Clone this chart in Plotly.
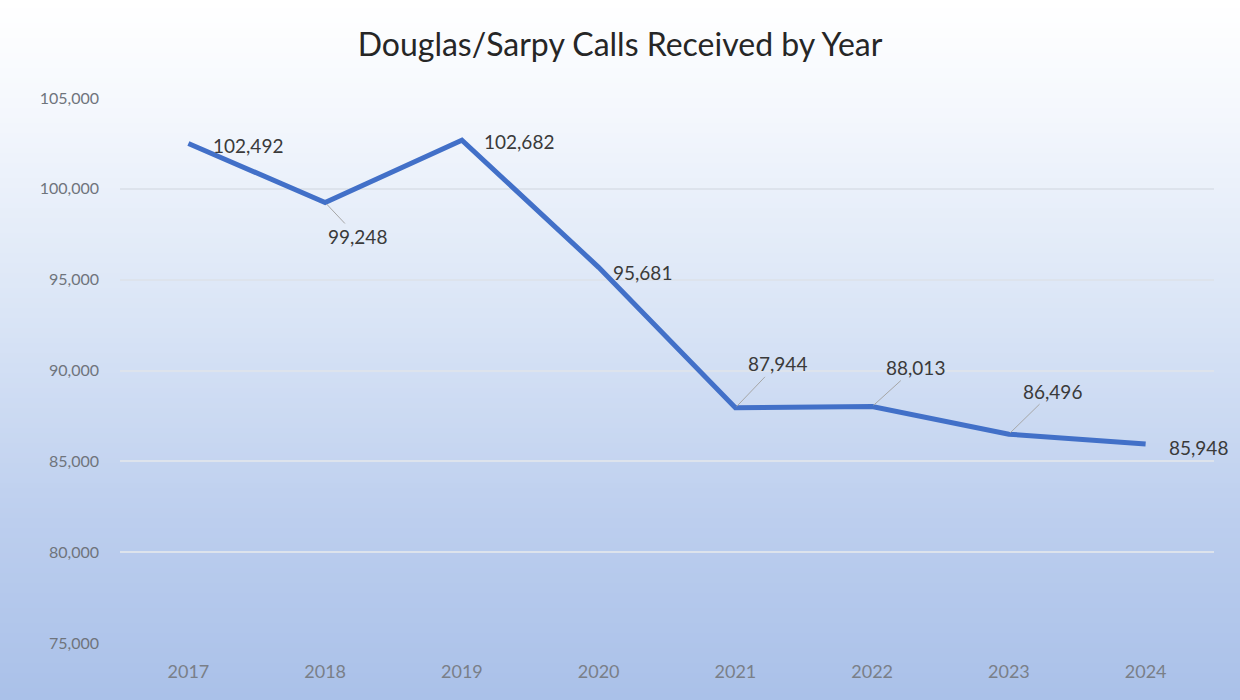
import base64, struct, zlib
import plotly.graph_objects as go

years = ["2017", "2018", "2019", "2020", "2021", "2022", "2023", "2024"]
calls = [102492, 99248, 102682, 95681, 87944, 88013, 86496, 85948]
label_text = ["102,492", "99,248", "102,682", "95,681", "87,944", "88,013", "86,496", "85,948"]
y_ticks = [75000, 80000, 85000, 90000, 95000, 100000, 105000]
y_tick_text = ["75,000", "80,000", "85,000", "90,000", "95,000", "100,000", "105,000"]

# label offsets in pixels (style only)
label_offsets = [(60, 2, False), (32, 34, True), (57, 1, False), (44, 5, False),
                 (42, -44, True), (43, -39, True), (44, -43, True), (53, 3, False)]


def gradient_png(stops, h=140):
    rows = b""
    for i in range(h):
        t = i / (h - 1)
        for j in range(len(stops) - 1):
            t0, c0 = stops[j]
            t1, c1 = stops[j + 1]
            if t0 <= t <= t1:
                f = (t - t0) / (t1 - t0) if t1 > t0 else 0
                c = [round(c0[k] + (c1[k] - c0[k]) * f) for k in range(3)]
                break
        rows += b"\x00" + bytes(c) * 4
    def chunk(tag, data):
        return struct.pack(">I", len(data)) + tag + data + struct.pack(">I", zlib.crc32(tag + data) & 0xffffffff)
    png = b"\x89PNG\r\n\x1a\n" + chunk(b"IHDR", struct.pack(">IIBBBBB", 4, h, 8, 2, 0, 0, 0))
    png += chunk(b"IDAT", zlib.compress(rows)) + chunk(b"IEND", b"")
    return "data:image/png;base64," + base64.b64encode(png).decode()


bg = gradient_png([(0.0, (255, 255, 255)), (0.15, (245, 248, 253)), (0.45, (218, 229, 246)),
                   (0.75, (188, 206, 238)), (1.0, (170, 193, 233))])

fig = go.Figure()
fig.add_trace(go.Scatter(x=years, y=calls, mode="lines",
                         line=dict(color="#4270c8", width=5), hoverinfo="x+y"))

L, R, T, B = 120, 26, 98, 57
W, H = 1240, 700
pw, ph = W - L - R, H - T - B

for i, (v, txt, (dx, dy, arrow)) in enumerate(zip(calls, label_text, label_offsets)):
    fig.add_annotation(x=i, y=v, text=txt, showarrow=True, arrowhead=0,
                       arrowwidth=1 if arrow else 0.1,
                       arrowcolor="#a6a6a6" if arrow else "rgba(0,0,0,0)",
                       ax=dx, ay=dy, font=dict(family="Lato, Open Sans, sans-serif", size=19, color="#3a3a3a"),
                       standoff=2)

fig.update_layout(
    width=W, height=H,
    margin=dict(l=L, r=R, t=T, b=B),
    paper_bgcolor="white", plot_bgcolor="rgba(0,0,0,0)",
    title=dict(text="Douglas/Sarpy Calls Received by Year", x=0.5, xanchor="center",
               y=1 - 45 / H, yanchor="middle",
               font=dict(family="Lato, Open Sans, sans-serif", size=32, color="#262626")),
    images=[dict(source=bg, xref="paper", yref="paper", x=-L / pw, y=1 + T / ph,
                 sizex=W / pw, sizey=H / ph, sizing="stretch", layer="below",
                 xanchor="left", yanchor="top")],
    showlegend=False,
    xaxis=dict(type="category", range=[-0.5, 7.5], showgrid=False, zeroline=False, showline=False, ticks="",
               tickfont=dict(family="Lato, Open Sans, sans-serif", size=18, color="#7a7f88"),
               ticklabelstandoff=16),
    yaxis=dict(range=[75000, 105000], tickvals=y_ticks, ticktext=y_tick_text,
               showgrid=True, gridcolor="#dde3ec", gridwidth=1.5, zeroline=False, showline=False,
               tickfont=dict(family="Lato, Open Sans, sans-serif", size=16, color="#6f747c"),
               ticklabelstandoff=20),
)

fig.write_html("out.html", post_script="document.body.style.margin='0';",
               config={"displayModeBar": False})
